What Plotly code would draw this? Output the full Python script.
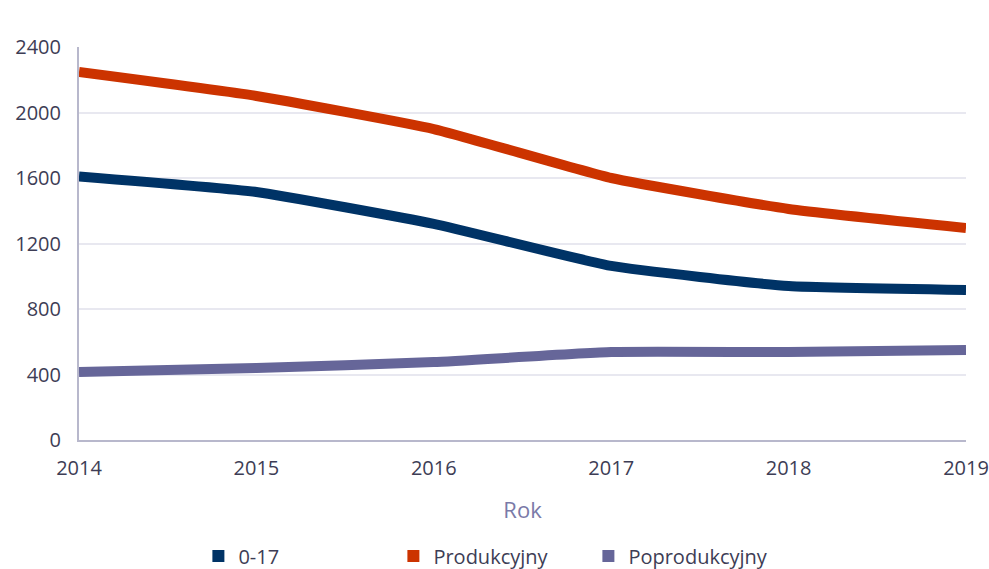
import plotly.graph_objects as go

years = [2014, 2015, 2016, 2017, 2018, 2019]
v_0_17 = [1610, 1515, 1320, 1063, 940, 916]
v_prod = [2247, 2101, 1899, 1600, 1411, 1295]
v_poprod = [415, 440, 476, 537, 537, 550]

names = ["0-17", "Produkcyjny", "Poprodukcyjny"]
colors = ["#003366", "#cc3300", "#666699"]
series = [v_0_17, v_prod, v_poprod]

fig = go.Figure()
for n, c, s in zip(names, colors, series):
    fig.add_trace(go.Scatter(x=years, y=s, mode="lines", name=n,
                             line=dict(color=c, width=10, shape="spline", smoothing=0.4),
                             showlegend=False))
for n, c in zip(names, colors):
    fig.add_trace(go.Scatter(x=[None], y=[None], mode="markers", name=n,
                             marker=dict(color=c, symbol="square", size=12)))

fig.update_layout(
    width=989, height=569,
    margin=dict(l=79, r=23, t=47, b=129, autoexpand=False),
    paper_bgcolor="white", plot_bgcolor="white",
    font=dict(family="Open Sans", size=20, color="#3d3d55"),
    showlegend=True,
    legend=dict(orientation="h", x=0.2006, xanchor="left", xref="container",
                y=0.0228, yanchor="middle", yref="container",
                entrywidth=150, entrywidthmode="pixels", itemsizing="constant",
                font=dict(size=20, color="#3d3d55")),
    xaxis=dict(range=[2014, 2019], tickvals=years, showgrid=False, automargin=False,
               showline=True, linecolor="#b8b8cc", linewidth=2, ticks="",
               ticklabelstandoff=9,
               title=dict(text="Rok", font=dict(size=22, color="#7a7aa8"), standoff=23)),
    yaxis=dict(range=[0, 2400], tickvals=[0, 400, 800, 1200, 1600, 2000, 2400],
               showgrid=True, gridcolor="#e8e8f0", gridwidth=2, automargin=False,
               showline=True, linecolor="#b8b8cc", linewidth=2, ticks="",
               ticklabelstandoff=12, zeroline=False),
)
fig.write_html("out.html", config={"displayModeBar": False},
               post_script="document.body.style.margin='0';document.body.style.overflow='hidden';")
